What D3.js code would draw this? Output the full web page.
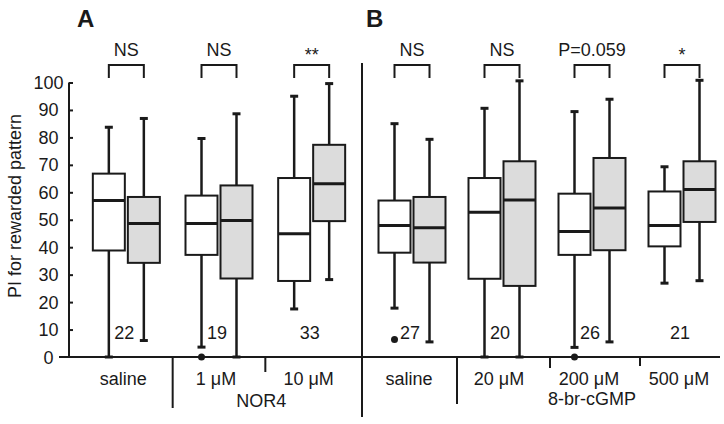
<!DOCTYPE html>
<html><head><meta charset="utf-8">
<script src="https://cdn.jsdelivr.net/npm/d3@7/dist/d3.min.js"></script>
<style>body{margin:0;background:#fff}svg{display:block}text{font-family:"Liberation Sans",Arial,sans-serif;fill:#1a1a1a}</style>
</head><body><svg id="c" width="724" height="424"></svg>
<script>
// ---- data ----
const categoriesA = ["saline", "1 μM", "10 μM"];
const categoriesB = ["saline", "20 μM", "200 μM", "500 μM"];
// [whiskerLow, q1, median, q3, whiskerHigh]
const controlStats = [
  [0, 38.8, 57.0, 66.8, 83.7],
  [3.6, 37.2, 48.6, 58.8, 79.6],
  [17.5, 27.7, 44.9, 65.2, 95.0],
  [17.8, 38.0, 47.9, 57.0, 85.0],
  [0, 28.5, 52.7, 65.2, 90.6],
  [3.5, 37.2, 45.7, 59.5, 89.4],
  [26.9, 40.3, 47.9, 60.3, 69.3]
];
const drugStats = [
  [6.0, 34.3, 48.6, 58.3, 86.9],
  [0, 28.6, 49.7, 62.5, 88.6],
  [28.2, 49.5, 63.1, 77.3, 99.6],
  [5.5, 34.4, 47.1, 58.3, 79.3],
  [0, 25.9, 57.2, 71.3, 100.6],
  [5.5, 38.9, 54.3, 72.5, 93.9],
  [27.8, 49.2, 61.0, 71.3, 100.8]
];
const controlOutliers = [[], [0], [], [6.4], [], [0], []];
const nValues = [22, 19, 33, 27, 20, 26, 21];
const sigLabels = ["NS", "NS", "**", "NS", "NS", "P=0.059", "*"];
const yTicks = [0, 10, 20, 30, 40, 50, 60, 70, 80, 90, 100];
const groupLabelA = "NOR4";
const groupLabelB = "8-br-cGMP";

// ---- layout ----
const svg = d3.select("#c");
const ink = "#1a1a1a";
const y = d3.scaleLinear().domain([0, 100]).range([357, 82.5]);
const xA = d3.scaleBand().domain(categoriesA).range([80, 358]);
const xB = d3.scaleBand().domain(categoriesB).range([367, 727]);
const groups = [];
categoriesA.forEach((c, i) => groups.push({panel: "A", cat: c, cx: xA(c) + xA.bandwidth() / 2, idx: i}));
categoriesB.forEach((c, i) => groups.push({panel: "B", cat: c, cx: xB(c) + xB.bandwidth() / 2, idx: categoriesA.length + i}));

const off = 17.5, bw = 32, capW = 8;

// y axis
const yAxis = d3.axisRight(y).tickValues(yTicks.filter(d => d > 0)).tickSize(4).tickFormat("");
const ga = svg.append("g").attr("transform", "translate(69,0)").call(yAxis);
ga.selectAll("path,line").attr("stroke", ink).attr("stroke-width", 2);
ga.select(".domain").attr("d", `M0,${y(100)}V${y(0)}`);
svg.selectAll(".ytl").data(yTicks).join("text").attr("class", "ytl")
  .attr("x", 48.5).attr("y", d => y(d) + 6.5).attr("text-anchor", "middle").attr("font-size", 18).text(d => d);
svg.append("text").attr("transform", `translate(21,206) rotate(-90)`).attr("text-anchor", "middle")
  .attr("font-size", 18).text("PI for rewarded pattern");

// x axis line
svg.append("line").attr("x1", 59).attr("x2", 720).attr("y1", y(0)).attr("y2", y(0)).attr("stroke", ink).attr("stroke-width", 2);

// boxes
function drawBox(g, cx, s, fill) {
  const [lo, q1, md, q3, hi] = s;
  g.append("line").attr("x1", cx).attr("x2", cx).attr("y1", y(q3)).attr("y2", y(hi)).attr("stroke", ink).attr("stroke-width", 2.5);
  g.append("line").attr("x1", cx).attr("x2", cx).attr("y1", y(q1)).attr("y2", y(lo)).attr("stroke", ink).attr("stroke-width", 2.5);
  g.append("line").attr("x1", cx - capW / 2).attr("x2", cx + capW / 2).attr("y1", y(hi)).attr("y2", y(hi)).attr("stroke", ink).attr("stroke-width", 3);
  g.append("line").attr("x1", cx - capW / 2).attr("x2", cx + capW / 2).attr("y1", y(lo)).attr("y2", y(lo)).attr("stroke", ink).attr("stroke-width", 3);
  g.append("rect").attr("x", cx - bw / 2).attr("width", bw).attr("y", y(q3)).attr("height", y(q1) - y(q3))
    .attr("fill", fill).attr("stroke", ink).attr("stroke-width", 2);
  g.append("line").attr("x1", cx - bw / 2).attr("x2", cx + bw / 2).attr("y1", y(md)).attr("y2", y(md)).attr("stroke", ink).attr("stroke-width", 3);
}
groups.forEach(gp => {
  const g = svg.append("g");
  drawBox(g, gp.cx - off, controlStats[gp.idx], "#ffffff");
  drawBox(g, gp.cx + off, drugStats[gp.idx], "#dcdcdc");
  controlOutliers[gp.idx].forEach(v => g.append("circle").attr("cx", gp.cx - off).attr("cy", y(v)).attr("r", 3.5).attr("fill", ink));
  g.append("text").attr("x", gp.cx - 2).attr("y", y(0) - 18).attr("text-anchor", "middle").attr("font-size", 18).text(nValues[gp.idx]);
  // bracket
  const x1 = gp.cx - off, x2 = gp.cx + off, top = 65, bot = 78;
  g.append("path").attr("d", `M${x1},${bot}V${top}H${x2}V${bot}`).attr("fill", "none").attr("stroke", ink).attr("stroke-width", 2);
  const lbl = sigLabels[gp.idx];
  const isStar = /^\*+$/.test(lbl);
  g.append("text").attr("x", gp.cx).attr("y", isStar ? 61 : 56).attr("text-anchor", "middle").attr("font-size", 18).text(lbl);
  // category label
  g.append("text").attr("x", gp.cx - 3).attr("y", 385).attr("text-anchor", "middle").attr("font-size", 18).text(gp.cat);
});

// separators
function vline(x, y1, y2) { svg.append("line").attr("x1", x).attr("x2", x).attr("y1", y1).attr("y2", y2).attr("stroke", ink).attr("stroke-width", 2); }
vline(xA(categoriesA[1]), y(0), 408);
vline(xA(categoriesA[2]), y(0), 372);
vline(362, 63, 417);
vline(xB(categoriesB[1]), y(0), 404);
vline(xB(categoriesB[2]) + 3, y(0), 368);
vline(xB(categoriesB[3]) + 3, y(0), 366);

// group labels
const cA1 = xA(categoriesA[1]) + xA.bandwidth() / 2, cA2 = xA(categoriesA[2]) + xA.bandwidth() / 2;
svg.append("text").attr("x", (cA1 + cA2) / 2 - 4).attr("y", 407).attr("text-anchor", "middle").attr("font-size", 18).text(groupLabelA);
svg.append("text").attr("x", xB(categoriesB[2]) + xB.bandwidth() / 2).attr("y", 405).attr("text-anchor", "middle").attr("font-size", 18).text(groupLabelB);

// panel letters
svg.append("text").attr("x", 77).attr("y", 27).attr("font-size", 24).attr("font-weight", "bold").text("A");
svg.append("text").attr("x", 366).attr("y", 27).attr("font-size", 24).attr("font-weight", "bold").text("B");
</script></body></html>
